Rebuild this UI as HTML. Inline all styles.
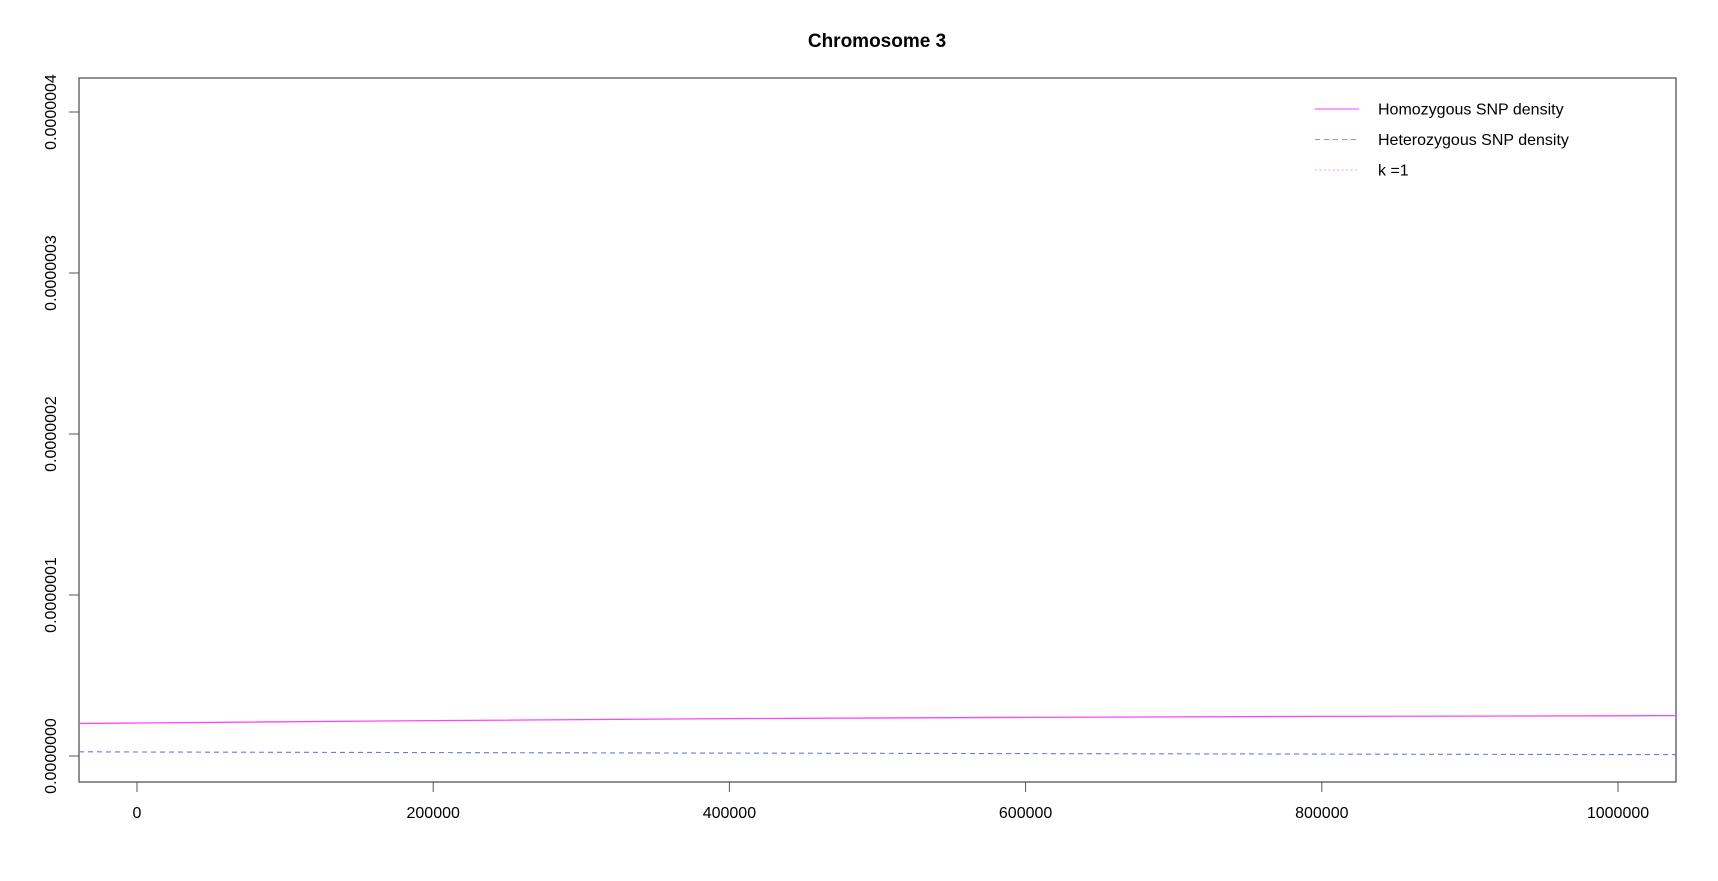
<!DOCTYPE html>
<html><head><meta charset="utf-8"><style>
html,body{margin:0;padding:0;background:#fff;}
svg{display:block;font-family:"Liberation Sans",Arial,sans-serif;}
</style></head><body>
<svg id="chart" width="1718" height="881" viewBox="0 0 1718 881"></svg>
<script>
const xTicks = [0, 200000, 400000, 600000, 800000, 1000000];
const xTickLabels = ["0", "200000", "400000", "600000", "800000", "1000000"];
const yTicks = [0, 1e-7, 2e-7, 3e-7, 4e-7];
const yTickLabels = ["0.0000000", "0.0000001", "0.0000002", "0.0000003", "0.0000004"];
const positions = [-40000, 0, 200000, 400000, 600000, 800000, 1000000, 1040000];
const homozygous = [2.02e-8, 2.05e-8, 2.2e-8, 2.32e-8, 2.4e-8, 2.46e-8, 2.5e-8, 2.51e-8];
const heterozygous = [2.6e-9, 2.5e-9, 2.1e-9, 1.8e-9, 1.5e-9, 1.2e-9, 0.9e-9, 0.85e-9];
const legendLabels = ["Homozygous SNP density", "Heterozygous SNP density", "k =1"];

const NS = "http://www.w3.org/2000/svg";
const svg = document.getElementById('chart');
const L = 79, R = 1676, T = 78, B = 782;
const XA = 137, XB = 1618;
const sx = v => XA + v / 1000000 * (XB - XA);
const sy = v => 756 - v / 1e-7 * 161;
function mk(tag, attrs, text) {
  const e = document.createElementNS(NS, tag);
  for (const k in attrs) e.setAttribute(k, attrs[k]);
  if (text !== undefined) e.textContent = text;
  svg.appendChild(e);
  return e;
}
let e;
e = mk('text', {x: 877, y: 47, 'text-anchor': 'middle', 'font-size': 19, 'font-weight': 'bold'}, 'Chromosome 3');


e = mk('rect', {x: L, y: T, width: R - L, height: B - T, fill: 'none', stroke: '#555', 'stroke-width': 1.3});



xTicks.forEach((v, i) => {
  const x = sx(v);
  const t = mk('line', {x1: x, x2: x, y1: B, y2: B + 10, stroke: '#555', 'stroke-width': 1});
  
  
  const l = mk('text', {x: x, y: B + 36, 'text-anchor': 'middle', 'font-size': 16}, xTickLabels[i]);
  
  
});
yTicks.forEach((v, i) => {
  const y = sy(v);
  const t = mk('line', {x1: L - 10, x2: L, y1: y, y2: y, stroke: '#555', 'stroke-width': 1});
  
  
  const l = mk('text', {x: 0, y: 0, 'text-anchor': 'middle', 'font-size': 16, transform: `translate(56,${y}) rotate(-90)`}, yTickLabels[i]);
  
  
});

function path(vals) {
  return positions.map((p, i) => (i ? 'L' : 'M') + Math.max(L, Math.min(R, sx(p))).toFixed(1) + ',' + sy(vals[i]).toFixed(1)).join(' ');
}
e = mk('path', {d: path(homozygous), fill: 'none', stroke: '#ff44ff', 'stroke-width': 1.3});


e = mk('path', {d: path(heterozygous), fill: 'none', stroke: '#6b78e0', 'stroke-width': 1.1, 'stroke-dasharray': '5,4'});



const styles = [
  {stroke: '#ff44ff', dash: ''},
  {stroke: '#8890ee', dash: '5,4'},
  {stroke: '#ff77ff', dash: '1.5,3'}
];
legendLabels.forEach((lab, i) => {
  const y = 109 + i * 30.5;
  const ln = mk('line', {x1: 1315, x2: 1359, y1: y, y2: y, stroke: styles[i].stroke, 'stroke-width': 1.1, 'stroke-dasharray': styles[i].dash});
  
  
  const t = mk('text', {x: 1378, y: y + 5.5, 'font-size': 16}, lab);
  
  
});
</script>
</body></html>
